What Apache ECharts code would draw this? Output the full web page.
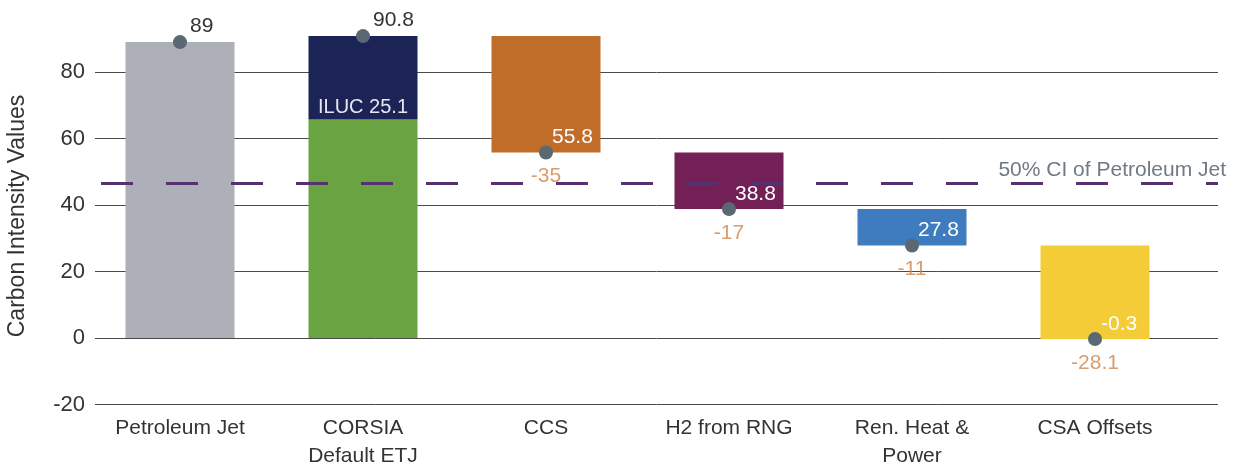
<!DOCTYPE html>
<html>
<head>
<meta charset="utf-8">
<script src="https://cdn.jsdelivr.net/npm/echarts@6/dist/echarts.min.js"></script>
<style>
html,body{margin:0;padding:0;background:#fff;}
#chart{width:1233px;height:465px;}
</style>
</head>
<body>
<div id="chart"></div>
<script>
// ---- data ----
const categories = ['Petroleum Jet', 'CORSIA\nDefault ETJ', 'CCS', 'H2 from RNG', 'Ren. Heat &\nPower', 'CSA Offsets'];
const baseValues = [0, 0, 55.8, 38.8, 27.8, -0.3];      // invisible bottom of each bar
const barValues = [89, 65.7, 35, 17, 11, 28.1];         // visible main segment height
const ilucValues = [null, 25.1, null, null, null, null];// ILUC segment on CORSIA
const pointValues = [89, 90.8, 55.8, 38.8, 27.8, -0.3]; // resulting CI (dots)
const changeValues = [null, null, -35, -17, -11, -28.1];// reductions
const referenceLine = 46.5;
const referenceLabel = '50% CI of Petroleum Jet';
const ilucLabel = 'ILUC 25.1';
const yTicks = { min: -20, max: 100, interval: 20 };
const yAxisName = 'Carbon Intensity Values';

// ---- styles ----
const barColors = ['#adb0b8', '#6aa342', '#c06d2a', '#722055', '#3f7bbf', '#f4cc37'];
const FONT = '"Liberation Sans", Arial, sans-serif';
const gridTop = 5.5, gridBottom = 60.5;

const chart = echarts.init(document.getElementById('chart'), null, { renderer: 'canvas' });

const dotData = pointValues.map((v, i) => {
  const dark = changeValues[i] == null;
  return {
    value: v,
    label: {
      show: true,
      formatter: String(v),
      position: dark ? [17, -9] : [13, -8],
      align: 'left',
      verticalAlign: 'middle',
      color: dark ? '#333333' : '#ffffff',
      fontSize: 21,
      fontFamily: FONT
    }
  };
});

const option = {
  animation: false,
  backgroundColor: '#ffffff',
  grid: [
    { left: 95, right: 15, top: gridTop, bottom: gridBottom, containLabel: false, outerBoundsMode: 'none' },
    { left: 88.5, right: 46.5, top: gridTop, bottom: gridBottom, containLabel: false, outerBoundsMode: 'none' }
  ],
  xAxis: [
    { gridIndex: 0, type: 'value', min: 0, max: 1, show: false },
    {
      gridIndex: 1, type: 'category', data: categories,
      axisLine: { show: false }, axisTick: { show: false },
      axisLabel: { color: '#333333', fontSize: 21, fontFamily: FONT, lineHeight: 28, margin: 10, interval: 0 }
    }
  ],
  yAxis: [
    {
      gridIndex: 0, type: 'value', min: yTicks.min, max: yTicks.max, interval: yTicks.interval,
      name: yAxisName, nameLocation: 'middle', nameGap: 66, nameRotate: 90,
      nameTextStyle: { color: '#333333', fontSize: 23, fontFamily: FONT, padding: [0, 22, 0, 0] },
      axisLine: { show: false }, axisTick: { show: false },
      axisLabel: {
        color: '#333333', fontSize: 22, fontFamily: FONT, margin: 10,
        formatter: (v) => v >= yTicks.max ? '' : String(v)
      },
      splitLine: { show: true, showMaxLine: false, lineStyle: { color: '#4a4a4a', width: 1 } }
    },
    { gridIndex: 1, type: 'value', min: yTicks.min, max: yTicks.max, interval: yTicks.interval, show: false, splitLine: { show: false } }
  ],
  series: [
    {
      type: 'bar', xAxisIndex: 1, yAxisIndex: 1, stack: 'w', stackStrategy: 'all',
      data: baseValues, barWidth: 109,
      itemStyle: { color: 'transparent' }, silent: true, z: 2
    },
    {
      type: 'bar', xAxisIndex: 1, yAxisIndex: 1, stack: 'w', stackStrategy: 'all',
      data: barValues.map((v, i) => ({ value: v, itemStyle: { color: barColors[i] } })),
      barWidth: 109, z: 2
    },
    {
      type: 'bar', xAxisIndex: 1, yAxisIndex: 1, stack: 'w', stackStrategy: 'all',
      data: ilucValues, barWidth: 109, z: 2,
      itemStyle: { color: '#1c2457' },
      label: {
        show: true, position: 'insideBottom', distance: 2,
        formatter: ilucLabel, color: '#e6e7ef', fontSize: 20, fontFamily: FONT
      }
    },
    {
      type: 'line', xAxisIndex: 0, yAxisIndex: 0,
      data: [[0, referenceLine]], symbol: 'none', lineStyle: { opacity: 0 }, z: 5,
      markLine: {
        silent: true, symbol: 'none', z: 5,
        lineStyle: { color: '#57306f', width: 3, type: [32, 33], dashOffset: 59 },
        label: {
          show: true, position: 'insideEndTop', formatter: referenceLabel,
          color: '#6f7a85', fontSize: 21, fontFamily: FONT, offset: [13, 2]
        },
        data: [{ yAxis: referenceLine }]
      }
    },
    {
      type: 'scatter', xAxisIndex: 1, yAxisIndex: 1,
      data: changeValues.map((v, i) => v == null ? null : pointValues[i]),
      symbolSize: 14, itemStyle: { color: 'rgba(0,0,0,0)' }, z: 9,
      label: {
        show: true, position: [7, 31], align: 'center', verticalAlign: 'middle',
        color: '#d0844a', fontSize: 21, fontFamily: FONT,
        formatter: (p) => String(changeValues[p.dataIndex])
      }
    },
    {
      type: 'scatter', xAxisIndex: 1, yAxisIndex: 1,
      data: dotData, symbolSize: 14, itemStyle: { color: '#5a6873', opacity: 1 }, z: 10
    }
  ]
};
chart.setOption(option);
</script>
</body>
</html>
